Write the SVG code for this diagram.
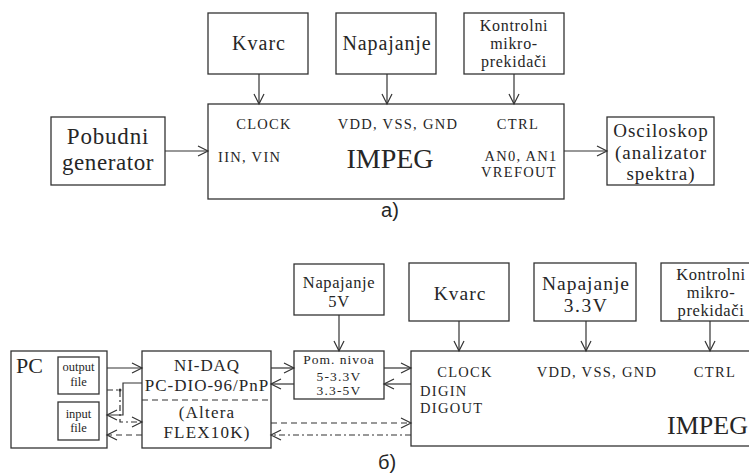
<svg xmlns="http://www.w3.org/2000/svg" width="749" height="475" viewBox="0 0 749 475" font-family="'Liberation Serif', 'Times New Roman', serif">
  <style>
    .box { fill: #fff; stroke: #333; stroke-width: 1.3; }
    .ln { fill: none; stroke: #333; stroke-width: 1.2; }
    .dash { stroke-dasharray: 6 4; }
    .dashdot { stroke-dasharray: 6 3 2 3; }
    text { font-family: 'Liberation Serif', 'Times New Roman', serif; fill: #262626; }
    .mid { text-anchor: middle; }
    .pin { font-size: 14.5px; letter-spacing: 1.3px; }
    .cap { font-family: 'Liberation Sans', Arial, sans-serif; font-size: 20px; text-anchor: middle; }
  </style>
  <defs>
    <marker id="arr" viewBox="0 0 10 10" refX="10" refY="5" markerWidth="10" markerHeight="10" markerUnits="userSpaceOnUse" orient="auto" overflow="visible">
      <path d="M0,0 L10,5 L0,10" fill="none" stroke="#333" stroke-width="1.2"/>
    </marker>
  </defs>
  <rect width="749" height="475" fill="#fff"/>

  <!-- ===== a) ===== -->
  <g id="a-kvarc">
    <rect class="box" x="208" y="13" width="100" height="61"/>
    <text class="mid" x="259" y="50" font-size="20" letter-spacing="1">Kvarc</text>
  </g>
  <g id="a-napajanje">
    <rect class="box" x="336" y="13" width="100" height="61"/>
    <text class="mid" x="387" y="50" font-size="20" letter-spacing="0.9">Napajanje</text>
  </g>
  <g id="a-kontrolni">
    <rect class="box" x="464" y="13" width="100" height="61"/>
    <text class="mid" x="514" y="31" font-size="16" letter-spacing="0.7">Kontrolni</text>
    <text class="mid" x="514" y="49" font-size="16" letter-spacing="0.7">mikro-</text>
    <text class="mid" x="514" y="67" font-size="16" letter-spacing="0.7">prekidači</text>
  </g>
  <g id="a-pobudni">
    <rect class="box" x="51" y="117" width="114" height="68"/>
    <text class="mid" x="108" y="144" font-size="23" letter-spacing="0.8">Pobudni</text>
    <text class="mid" x="108" y="170" font-size="23" letter-spacing="0.6">generator</text>
  </g>
  <g id="a-impeg">
    <rect class="box" x="208" y="104" width="356" height="95"/>
    <text class="mid pin" x="264" y="129">CLOCK</text>
    <text class="pin" x="218" y="162">IIN, VIN</text>
    <text class="mid pin" x="398" y="129">VDD, VSS, GND</text>
    <text class="mid pin" x="518" y="129">CTRL</text>
    <text class="mid pin" x="521" y="161">AN0, AN1</text>
    <text class="mid pin" x="519" y="177">VREFOUT</text>
    <text class="mid" x="390" y="168" font-size="28">IMPEG</text>
  </g>
  <g id="a-osciloskop">
    <rect class="box" x="607" y="117" width="107" height="68"/>
    <text class="mid" x="661" y="137" font-size="19" letter-spacing="1">Osciloskop</text>
    <text class="mid" x="661" y="159" font-size="19" letter-spacing="1">(analizator</text>
    <text class="mid" x="661" y="180" font-size="19" letter-spacing="1">spektra)</text>
  </g>
  <text class="cap" x="390" y="217">a)</text>

  <!-- ===== б) ===== -->
  <g id="b-pc">
    <rect class="box" x="11" y="351" width="96" height="97"/>
    <text x="16" y="373" font-size="22">PC</text>
    <rect class="box" x="58" y="357" width="41" height="37"/>
    <text class="mid" x="78.5" y="371" font-size="12.5">output</text>
    <text class="mid" x="78.5" y="386" font-size="12.5">file</text>
    <rect class="box" x="58" y="402" width="41" height="38"/>
    <text class="mid" x="78.5" y="418" font-size="12.5">input</text>
    <text class="mid" x="78.5" y="432" font-size="12.5">file</text>
  </g>
  <g id="b-nidaq">
    <rect class="box" x="142" y="351" width="129" height="97"/>
    <line class="ln dash" x1="142" y1="400" x2="271" y2="400"/>
    <text class="mid" x="207" y="371" font-size="17" letter-spacing="0.9">NI-DAQ</text>
    <text class="mid" x="207" y="391" font-size="17" letter-spacing="1">PC-DIO-96/PnP</text>
    <text class="mid" x="207" y="418" font-size="17" letter-spacing="1.2">(Altera</text>
    <text class="mid" x="207" y="438" font-size="17" letter-spacing="1.2">FLEX10K)</text>
  </g>
  <g id="b-napajanje5">
    <rect class="box" x="294" y="264" width="90" height="51"/>
    <text class="mid" x="339" y="288" font-size="16.5" letter-spacing="0.6">Napajanje</text>
    <text class="mid" x="339" y="307" font-size="16.5" letter-spacing="0.6">5V</text>
  </g>
  <g id="b-pomak">
    <rect class="box" x="294" y="351" width="90" height="48"/>
    <text class="mid" x="339" y="364" font-size="13.5" letter-spacing="1">Pom. nivoa</text>
    <text class="mid" x="339" y="381" font-size="13.5" letter-spacing="1.2">5-3.3V</text>
    <text class="mid" x="339" y="395" font-size="13.5" letter-spacing="1.2">3.3-5V</text>
  </g>
  <g id="b-kvarc">
    <rect class="box" x="409" y="263" width="100" height="58"/>
    <text class="mid" x="460" y="300" font-size="19.5" letter-spacing="1">Kvarc</text>
  </g>
  <g id="b-napajanje33">
    <rect class="box" x="534" y="263" width="102" height="58"/>
    <text class="mid" x="586" y="290" font-size="19.5" letter-spacing="1">Napajanje</text>
    <text class="mid" x="586" y="312" font-size="19.5" letter-spacing="1.5">3.3V</text>
  </g>
  <g id="b-kontrolni">
    <rect class="box" x="661" y="263" width="100" height="58"/>
    <text class="mid" x="711" y="280" font-size="16.5" letter-spacing="0.6">Kontrolni</text>
    <text class="mid" x="711" y="298" font-size="16.5" letter-spacing="0.6">mikro-</text>
    <text class="mid" x="711" y="316" font-size="16.5" letter-spacing="0.6">prekidači</text>
  </g>
  <g id="b-impeg">
    <rect class="box" x="411" y="351" width="360" height="95"/>
    <text class="mid pin" x="465" y="377">CLOCK</text>
    <text class="pin" x="420" y="396">DIGIN</text>
    <text class="pin" x="420" y="413">DIGOUT</text>
    <text class="mid pin" x="597" y="377">VDD, VSS, GND</text>
    <text class="mid pin" x="715" y="377">CTRL</text>
    <text x="748" y="434" font-size="26" text-anchor="end">IMPEG</text>
  </g>
  <text class="cap" x="387" y="469">б)</text>

  <!-- connectors -->
  <g id="connectors">
    <path class="ln" d="M259,74 V104" marker-end="url(#arr)"/>
    <path class="ln" d="M387,74 V104" marker-end="url(#arr)"/>
    <path class="ln" d="M514,74 V104" marker-end="url(#arr)"/>
    <path class="ln" d="M165,151 H208" marker-end="url(#arr)"/>
    <path class="ln" d="M564,151 H607" marker-end="url(#arr)"/>

    <path class="ln" d="M339,315 V351" marker-end="url(#arr)"/>
    <path class="ln" d="M459,321 V351" marker-end="url(#arr)"/>
    <path class="ln" d="M586,321 V351" marker-end="url(#arr)"/>
    <path class="ln" d="M710,321 V351" marker-end="url(#arr)"/>

    <path class="ln" d="M107,368 H142" marker-end="url(#arr)"/>
    <path class="ln" d="M142,383 H123 V415 H107" marker-end="url(#arr)"/>
    <path class="ln dashdot" d="M107,390 H120 V422 H142" marker-end="url(#arr)"/>
    <circle cx="120" cy="390" r="1.5" fill="#333"/>
    <path class="ln dash" d="M142,435 H107" marker-end="url(#arr)"/>

    <path class="ln" d="M271,368 H294" marker-end="url(#arr)"/>
    <path class="ln" d="M294,384 H271" marker-end="url(#arr)"/>
    <path class="ln" d="M384,368 H411" marker-end="url(#arr)"/>
    <path class="ln" d="M411,384 H384" marker-end="url(#arr)"/>
    <path class="ln dash" d="M271,423 H411" marker-end="url(#arr)"/>
    <path class="ln dashdot" d="M411,435 H271" marker-end="url(#arr)"/>
  </g>
</svg>
